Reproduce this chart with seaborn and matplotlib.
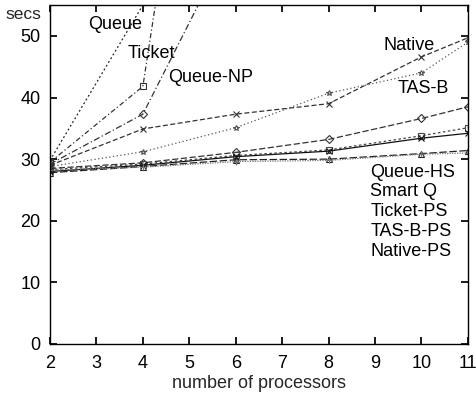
import matplotlib
matplotlib.use("Agg")
import matplotlib.pyplot as plt
import seaborn as sns
import pandas as pd

sns.set_theme(style="ticks")
plt.rcParams['font.family'] = ['Liberation Sans', 'DejaVu Sans']

procs_short = [2, 4, 6]
procs = [2, 4, 6, 8, 10, 11]

queue = [29.8, 55.0, 110.0]
ticket = [29.5, 41.8, 140.0]
queue_np = [29.2, 37.3, 67.0]
native = [29.0, 34.9, 37.3, 39.0, 46.6, 49.7]
tas_b = [28.8, 31.2, 35.1, 40.7, 44.0, 49.0]
queue_hs = [28.5, 29.4, 31.1, 33.2, 36.6, 38.5]
smart_q = [28.3, 29.2, 30.6, 31.5, 33.8, 35.1]
ticket_ps = [28.0, 29.0, 30.4, 31.3, 33.4, 34.2]
tas_b_ps = [27.8, 28.8, 29.9, 30.0, 30.9, 31.4]
native_ps = [28.2, 28.7, 29.6, 29.8, 30.8, 31.0]

series = [
    ("Queue", procs_short, queue, "+", (0, (1.5, 2)), "#222222"),
    ("Ticket", procs_short, ticket, "s", (0, (4, 2, 1, 2)), "#333333"),
    ("Queue-NP", procs_short, queue_np, "D", (0, (5, 2, 1, 2)), "#333333"),
    ("Native", procs, native, "x", (0, (4, 2)), "#333333"),
    ("TAS-B", procs, tas_b, "*", (0, (1, 2)), "#555555"),
    ("Queue-HS", procs, queue_hs, "D", (0, (5, 2)), "#333333"),
    ("Smart Q", procs, smart_q, "s", (0, (2, 2)), "#444444"),
    ("Ticket-PS", procs, ticket_ps, "x", "-", "#111111"),
    ("TAS-B-PS", procs, tas_b_ps, "^", (0, (6, 2)), "#222222"),
    ("Native-PS", procs, native_ps, "+", (0, (1, 1)), "#777777"),
]

fig = plt.figure(figsize=(4.77, 3.93), dpi=100)
ax = fig.add_axes([0.1048, 0.1247, 0.8762, 0.8623])

for name, xs, ys, mk, ls, col in series:
    df = pd.DataFrame({"x": xs, "y": ys})
    sns.lineplot(data=df, x="x", y="y", ax=ax, color=col, marker=mk,
                 linestyle=ls, linewidth=0.9, markersize=4,
                 markerfacecolor="none", markeredgecolor=col,
                 markeredgewidth=0.8, legend=False)

ax.set_xlim(2, 11)
ax.set_ylim(0, 55)
ax.set_xticks(range(2, 12))
ax.set_yticks([0, 10, 20, 30, 40, 50])
ax.tick_params(direction="in", top=True, right=True, length=5,
               labelsize=13, colors="black")
ax.tick_params(axis="x", pad=8)
ax.tick_params(axis="y", pad=7)
for s in ax.spines.values():
    s.set_color("black")
    s.set_linewidth(1.0)
ax.set_xlabel("number of processors", fontsize=13, labelpad=2)
ax.set_ylabel("")
fig.text(0.012, 0.962, "secs", fontsize=12.5, ha="left", va="center")

labels = [
    ("Queue", 2.82, 51.8), ("Ticket", 3.68, 47.2), ("Queue-NP", 4.54, 43.3),
    ("Native", 9.18, 48.5), ("TAS-B", 9.48, 41.5),
    ("Queue-HS", 8.9, 27.9), ("Smart Q", 8.9, 24.7), ("Ticket-PS", 8.9, 21.5),
    ("TAS-B-PS", 8.9, 18.2), ("Native-PS", 8.9, 15.0),
]
for t, x, y in labels:
    ax.text(x, y, t, fontsize=13, ha="left", va="center", color="black")

fig.savefig("out.png", dpi=100)
